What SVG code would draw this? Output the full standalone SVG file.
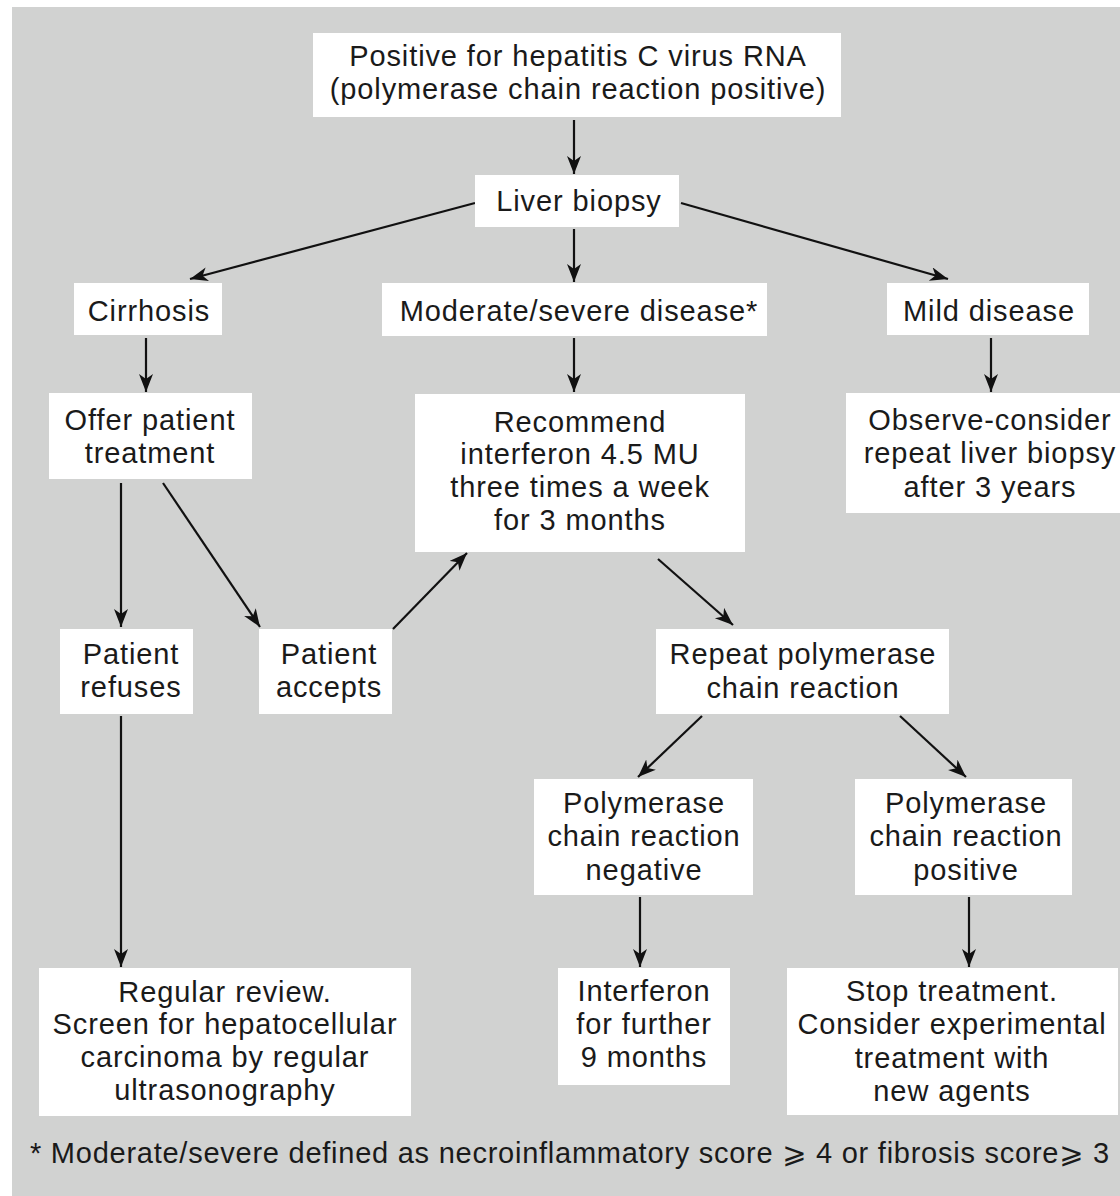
<svg xmlns="http://www.w3.org/2000/svg" width="1120" height="1196" viewBox="0 0 1120 1196">
<style>
.bg{fill:#d1d2d1}
.box{fill:#ffffff}
text{font-family:"Liberation Sans","DejaVu Sans",Arial,sans-serif;font-size:29px;letter-spacing:0.9px;fill:#1a1a1a;text-anchor:middle}
.fn{text-anchor:start;letter-spacing:0.75px}
.c{stroke:#111;stroke-width:2.2;fill:none;marker-end:url(#ah)}
</style>
<defs>
<marker id="ah" markerUnits="userSpaceOnUse" markerWidth="20" markerHeight="16" refX="18" refY="7" orient="auto">
<path d="M0,0 L18,7 L0,14 L5,7 Z" fill="#111"/>
</marker>
</defs>
<rect x="0" y="0" width="1120" height="1196" fill="#ffffff"/>
<rect class="bg" x="12" y="7" width="1108" height="1189"/>

<g id="connectors">
<line class="c" x1="574" y1="120" x2="574" y2="174"/>
<line class="c" x1="475" y1="203" x2="190" y2="279"/>
<line class="c" x1="681" y1="203" x2="948" y2="279"/>
<line class="c" x1="574" y1="229" x2="574" y2="282"/>
<line class="c" x1="146" y1="338" x2="146" y2="392"/>
<line class="c" x1="574" y1="338" x2="574" y2="392"/>
<line class="c" x1="991" y1="338" x2="991" y2="392"/>
<line class="c" x1="121" y1="483" x2="121" y2="627"/>
<line class="c" x1="163" y1="483" x2="260" y2="627"/>
<line class="c" x1="393" y1="629" x2="467" y2="553"/>
<line class="c" x1="658" y1="559" x2="733" y2="625"/>
<line class="c" x1="702" y1="716" x2="638" y2="777"/>
<line class="c" x1="900" y1="716" x2="966" y2="777"/>
<line class="c" x1="640" y1="897" x2="640" y2="967"/>
<line class="c" x1="969" y1="897" x2="969" y2="967"/>
<line class="c" x1="121" y1="716" x2="121" y2="967"/>
</g>

<g id="n-hcv">
<rect class="box" x="313" y="33" width="528" height="84"/>
<text x="578" y="66">Positive for hepatitis C virus RNA</text>
<text x="578" y="99">(polymerase chain reaction positive)</text>
</g>
<g id="n-biopsy">
<rect class="box" x="475" y="175" width="204" height="52"/>
<text x="579" y="211">Liver biopsy</text>
</g>
<g id="n-cirrhosis">
<rect class="box" x="74" y="283" width="148" height="52"/>
<text x="149" y="321">Cirrhosis</text>
</g>
<g id="n-moderate">
<rect class="box" x="382" y="283" width="385" height="53"/>
<text x="579" y="321">Moderate/severe disease*</text>
</g>
<g id="n-mild">
<rect class="box" x="887" y="283" width="202" height="52"/>
<text x="989" y="321">Mild disease</text>
</g>
<g id="n-offer">
<rect class="box" x="49" y="393" width="203" height="86"/>
<text x="150" y="430">Offer patient</text>
<text x="150" y="463">treatment</text>
</g>
<g id="n-recommend">
<rect class="box" x="415" y="394" width="330" height="158"/>
<text x="580" y="432">Recommend</text>
<text x="580" y="464">interferon 4.5 MU</text>
<text x="580" y="497">three times a week</text>
<text x="580" y="530">for 3 months</text>
</g>
<g id="n-observe">
<rect class="box" x="846" y="393" width="290" height="120"/>
<text x="990" y="430">Observe-consider</text>
<text x="990" y="463">repeat liver biopsy</text>
<text x="990" y="497">after 3 years</text>
</g>
<g id="n-refuses">
<rect class="box" x="60" y="629" width="133" height="85"/>
<text x="131" y="664">Patient</text>
<text x="131" y="697">refuses</text>
</g>
<g id="n-accepts">
<rect class="box" x="259" y="629" width="133" height="85"/>
<text x="329" y="664">Patient</text>
<text x="329" y="697">accepts</text>
</g>
<g id="n-repeat">
<rect class="box" x="656" y="629" width="293" height="85"/>
<text x="803" y="664">Repeat polymerase</text>
<text x="803" y="698">chain reaction</text>
</g>
<g id="n-negative">
<rect class="box" x="534" y="779" width="219" height="116"/>
<text x="644" y="813">Polymerase</text>
<text x="644" y="846">chain reaction</text>
<text x="644" y="880">negative</text>
</g>
<g id="n-positive">
<rect class="box" x="855" y="779" width="217" height="116"/>
<text x="966" y="813">Polymerase</text>
<text x="966" y="846">chain reaction</text>
<text x="966" y="880">positive</text>
</g>
<g id="n-review">
<rect class="box" x="39" y="968" width="372" height="148"/>
<text x="225" y="1002">Regular review.</text>
<text x="225" y="1034">Screen for hepatocellular</text>
<text x="225" y="1067">carcinoma by regular</text>
<text x="225" y="1100">ultrasonography</text>
</g>
<g id="n-interferon">
<rect class="box" x="558" y="968" width="172" height="117"/>
<text x="644" y="1001">Interferon</text>
<text x="644" y="1034">for further</text>
<text x="644" y="1067">9 months</text>
</g>
<g id="n-stop">
<rect class="box" x="787" y="968" width="331" height="147"/>
<text x="952" y="1001">Stop treatment.</text>
<text x="952" y="1034">Consider experimental</text>
<text x="952" y="1068">treatment with</text>
<text x="952" y="1101">new agents</text>
</g>
<text class="fn" x="30" y="1163">* Moderate/severe defined as necroinflammatory score ⩾ 4 or fibrosis score⩾ 3</text>
</svg>
